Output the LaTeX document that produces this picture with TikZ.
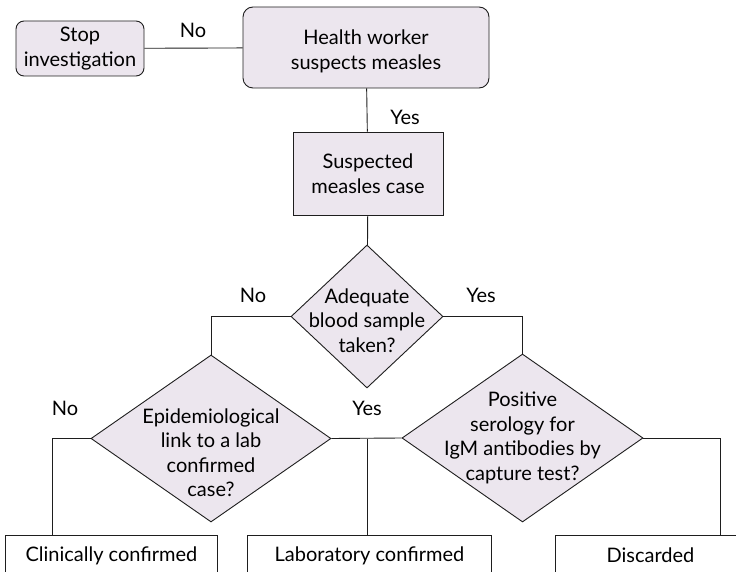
\documentclass[tikz,border=0pt]{standalone}
\usepackage{fontspec}
\setmainfont{Lato}
\usepackage{xcolor}
\usepackage{tikz}
\usetikzlibrary{shapes.geometric,positioning,calc}
\definecolor{lilac}{HTML}{ECE6EE}
\definecolor{edgegray}{HTML}{1E1E1E}
\tikzset{
  roundbox/.style={draw=edgegray, fill=lilac, line width=0.9pt, rounded corners=9pt, align=center, inner sep=0pt, font=\flowfont},
  casebox/.style={draw=edgegray, fill=lilac, line width=0.9pt, align=center, inner sep=0pt, font=\flowfont},
  decision/.style={draw=edgegray, fill=lilac, line width=0.9pt, diamond, inner sep=0pt},
  resultbox/.style={draw=edgegray, fill=white, line width=0.9pt, align=center, inner sep=0pt, minimum height=40pt, font=\flowfont},
  decisiontext/.style={align=center, font=\flowfont},
  answer/.style={font=\flowfont},
  flowline/.style={line width=0.9pt, draw=edgegray}
}
\newcommand{\flowfont}{\fontsize{20}{24.5}\selectfont}

\begin{document}
\begin{tikzpicture}
    \useasboundingbox (0,0) rectangle (736pt,-572pt);
    \node[roundbox, minimum width=128pt, minimum height=55pt, rounded corners=8pt] (stop) at (80pt,-48.5pt) {Stop\\investigation};
    \node[roundbox, minimum width=246pt, minimum height=81pt, rounded corners=10pt] (health) at (366pt,-47.5pt) {};
    \node[decisiontext] (healthtxt) at ([yshift=-4pt]health.center) {Health worker\\suspects measles};
    \node[casebox, minimum width=150pt, minimum height=83pt] (suspect) at (368pt,-173.5pt) {Suspected\\measles case};
    \node[decision, minimum width=152pt, minimum height=143pt] (sample) at (367pt,-316.5pt) {};
    \node[decisiontext] (sampletxt) at ([yshift=-4pt]sample.center) {Adequate\\blood sample\\taken?};
    \node[decision, minimum width=240pt, minimum height=167pt] (epilink) at (211pt,-438.5pt) {};
    \node[decisiontext] (epilinktxt) at ([yshift=-14pt]epilink.center) {Epidemiological\\link to a lab\\confirmed\\case?};
    \node[decision, minimum width=241pt, minimum height=168pt] (serology) at (522.5pt,-438pt) {};
    \node[decisiontext] (serologytxt) at (serology.center) {Positive\\serology for\\IgM antibodies by\\capture test?};
    \node[resultbox, minimum width=212pt, anchor=north west] (clinical) at (5pt,-535pt) {Clinically confirmed};
    \node[resultbox, minimum width=244pt, anchor=north west] (lab) at (247pt,-535pt) {Laboratory confirmed};
    \node[resultbox, minimum width=190pt, anchor=north west] (discarded) at (555pt,-535pt) {Discarded};
    \coordinate (clinicalin) at (52pt,-535pt);
    \coordinate (discardedin) at (720pt,-535pt);
    \draw[flowline] (stop) -- (health);
    \draw[flowline] (health) -- (suspect);
    \draw[flowline] (suspect) -- (sample);
    \draw[flowline] (sample.west) -| (epilink.north);
    \draw[flowline] (sample.east) -| (serology.north);
    \draw[flowline] (epilink.west) -| (clinicalin);
    \draw[flowline] (epilink.east) -- (serology.west);
    \draw[flowline] (lab.north -| sample.south) -- (epilink.east -| sample.south);
    \draw[flowline] (serology.east) -| (discardedin);
    \node[answer] (nostop) at (193pt,-30pt) {No};
    \node[answer] (yessuspect) at (405pt,-117pt) {Yes};
    \node[answer] (nosample) at (253pt,-295pt) {No};
    \node[answer] (yessample) at (481pt,-295pt) {Yes};
    \node[answer] (noepi) at (65pt,-408pt) {No};
    \node[answer] (yesepi) at (367pt,-408pt) {Yes};
  \end{tikzpicture}
\end{document}
